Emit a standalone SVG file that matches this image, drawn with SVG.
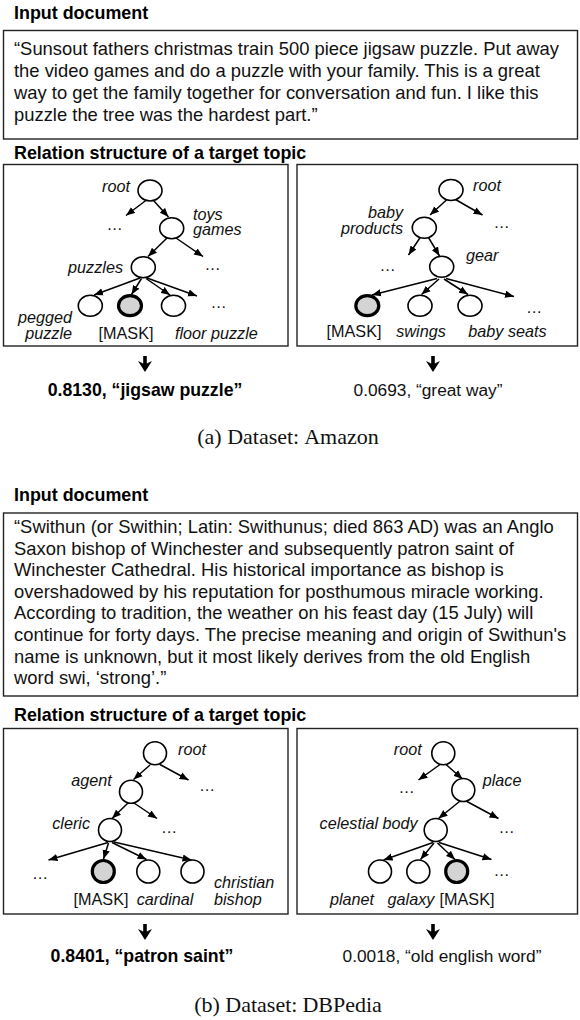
<svg xmlns="http://www.w3.org/2000/svg" width="580" height="1020" viewBox="0 0 580 1020">
<defs>
<marker id="ah" markerUnits="userSpaceOnUse" markerWidth="10" markerHeight="8" refX="9" refY="4" orient="auto"><path d="M0,0.4 L9,4 L0,7.6 z" fill="#000"/></marker>
<style>
.h{font-family:"Liberation Sans",Arial,sans-serif;font-weight:bold;font-size:17.9px;fill:#000}
.b{font-family:"Liberation Sans",Arial,sans-serif;font-size:18.4px;fill:#111}
.l{font-family:"Liberation Sans",Arial,sans-serif;font-style:italic;font-size:16.2px;fill:#111}
.k{font-family:"Liberation Sans",Arial,sans-serif;font-size:16.2px;fill:#111}
.d{font-family:"Liberation Sans",Arial,sans-serif;font-size:16.2px;fill:#111;text-anchor:middle}
.rb{font-family:"Liberation Sans",Arial,sans-serif;font-weight:bold;font-size:17.7px;fill:#000;text-anchor:middle}
.r{font-family:"Liberation Sans",Arial,sans-serif;font-size:17.3px;fill:#111;text-anchor:middle}
.c{font-family:"Liberation Serif","Times New Roman",serif;font-size:22px;fill:#111;text-anchor:middle}
.box{fill:none;stroke:#222;stroke-width:1.4}
.n{fill:#fff;stroke:#000;stroke-width:1.6}
.m{fill:#d4d4d4;stroke:#000;stroke-width:3.2}
.e{stroke:#000;stroke-width:1.5;fill:none;marker-end:url(#ah)}
.end{text-anchor:end}
.mid{text-anchor:middle}
</style>
</defs>
<rect width="580" height="1020" fill="#fff"/>

<!-- ===== (a) ===== -->
<g id="doc-a">
<text class="h" x="14" y="19">Input document</text>
<rect class="box" x="3.5" y="30.5" width="574" height="108.5"/>
<text class="b" x="14" y="55">“Sunsout fathers christmas train 500 piece jigsaw puzzle. Put away</text>
<text class="b" x="14" y="77">the video games and do a puzzle with your family. This is a great</text>
<text class="b" x="14" y="99">way to get the family together for conversation and fun. I like this</text>
<text class="b" x="14" y="121">puzzle the tree was the hardest part.”</text>
</g>
<text class="h" x="14" y="159">Relation structure of a target topic</text>
<g id="box-a-left"><rect class="box" x="3.5" y="164.5" width="284.5" height="181.5"/></g>
<g id="box-a-right"><rect class="box" x="297" y="164.5" width="280.5" height="181.5"/></g>

<g id="connectors-a">
<path class="e" d="M146.5,200 L126,215.5"/>
<path class="e" d="M153.5,200.5 L168.5,217"/>
<path class="e" d="M167,238 L148,256.5"/>
<path class="e" d="M176,238 L203,256.5"/>
<path class="e" d="M140,278 L94,295"/>
<path class="e" d="M141.5,278.5 L131.5,294.5"/>
<path class="e" d="M146,278.5 L170,295"/>
<path class="e" d="M147,278 L197,296"/>
<path class="e" d="M447,199.5 L430,215"/>
<path class="e" d="M455.5,199.5 L482.5,215"/>
<path class="e" d="M420.5,237 L408.5,255"/>
<path class="e" d="M428.5,237.5 L439.5,256"/>
<path class="e" d="M437,278.5 L372,295"/>
<path class="e" d="M439,279 L421.5,294.5"/>
<path class="e" d="M444,279 L468,294.5"/>
<path class="e" d="M446,278.5 L514,296.5"/>
<path d="M145,372 L138,361 L143.2,363.5 L143.2,356 L146.8,356 L146.8,363.5 L152,361 Z" fill="#000"/>
<path d="M433,372 L426,361 L431.2,363.5 L431.2,356 L434.8,356 L434.8,363.5 L440,361 Z" fill="#000"/>
</g>

<g id="a-root"><ellipse class="n" cx="150" cy="190.5" rx="12" ry="10.5"/><text class="l end" x="130" y="191.5">root</text></g>
<g id="a-dots1"><text class="d" x="114.5" y="229.5">…</text></g>
<g id="a-toys"><ellipse class="n" cx="171.7" cy="228.3" rx="12" ry="10.5"/><text class="l" x="193" y="220">toys<tspan x="193" dy="15">games</tspan></text></g>
<g id="a-puzzles"><ellipse class="n" cx="143.3" cy="267.3" rx="12" ry="10.5"/><text class="l end" x="123" y="273">puzzles</text></g>
<g id="a-dots2"><text class="d" x="212.5" y="269.5">…</text></g>
<g id="a-pegged"><ellipse class="n" cx="90.3" cy="305.7" rx="12" ry="10.5"/><text class="l end" x="72" y="323">pegged<tspan x="72" dy="15.5">puzzle</tspan></text></g>
<g id="a-mask1"><ellipse class="m" cx="130" cy="305.7" rx="11.5" ry="10"/><text class="k mid" x="126" y="338.5">[MASK]</text></g>
<g id="a-floor"><ellipse class="n" cx="173.5" cy="305.7" rx="12" ry="10.5"/><text class="l" x="175" y="338.5">floor puzzle</text></g>
<g id="a-dots3"><text class="d" x="218.5" y="308">…</text></g>

<g id="a2-root"><ellipse class="n" cx="451" cy="190" rx="12" ry="10.5"/><text class="l" x="473" y="191">root</text></g>
<g id="a2-dots1"><text class="d" x="501.5" y="228">…</text></g>
<g id="a2-baby"><ellipse class="n" cx="424.3" cy="227.7" rx="12" ry="10.5"/><text class="l end" x="403" y="218">baby<tspan x="403" dy="16">products</tspan></text></g>
<g id="a2-dots2"><text class="d" x="387.5" y="271">…</text></g>
<g id="a2-gear"><ellipse class="n" cx="441.7" cy="266.7" rx="12" ry="10.5"/><text class="l" x="466" y="260.5">gear</text></g>
<g id="a2-mask"><ellipse class="m" cx="367.3" cy="305.7" rx="11.5" ry="10"/><text class="k mid" x="354" y="337">[MASK]</text></g>
<g id="a2-swings"><ellipse class="n" cx="420" cy="305.7" rx="12" ry="10.5"/><text class="l mid" x="421" y="337">swings</text></g>
<g id="a2-seats"><ellipse class="n" cx="470" cy="305.7" rx="12" ry="10.5"/><text class="l mid" x="507.5" y="337">baby seats</text></g>
<g id="a2-dots3"><text class="d" x="534" y="313">…</text></g>

<g id="result-a">
<text class="rb" x="145" y="396">0.8130, “jigsaw puzzle”</text>
<text class="r" x="428" y="396">0.0693, “great way”</text>
<text class="c" x="288" y="444">(a) Dataset:<tspan dx="5">Amazon</tspan></text>
</g>

<!-- ===== (b) ===== -->
<g id="doc-b">
<text class="h" x="14" y="501">Input document</text>
<rect class="box" x="3.5" y="513" width="574" height="183"/>
<text class="b" x="14" y="533">“Swithun (or Swithin; Latin: Swithunus; died 863 AD) was an Anglo</text>
<text class="b" x="14" y="554.6">Saxon bishop of Winchester and subsequently patron saint of</text>
<text class="b" x="14" y="576.2">Winchester Cathedral. His historical importance as bishop is</text>
<text class="b" x="14" y="597.8">overshadowed by his reputation for posthumous miracle working.</text>
<text class="b" x="14" y="619.4">According to tradition, the weather on his feast day (15 July) will</text>
<text class="b" x="14" y="641">continue for forty days. The precise meaning and origin of Swithun's</text>
<text class="b" x="14" y="662.6">name is unknown, but it most likely derives from the old English</text>
<text class="b" x="14" y="684.2">word swi, ‘strong’.”</text>
</g>
<text class="h" x="14" y="721">Relation structure of a target topic</text>
<g id="box-b-left"><rect class="box" x="3.5" y="728.5" width="284.5" height="185.5"/></g>
<g id="box-b-right"><rect class="box" x="297" y="728.5" width="280.5" height="185.5"/></g>

<g id="connectors-b">
<path class="e" d="M150,765 L133.5,779.5"/>
<path class="e" d="M160,764.5 L188.5,780"/>
<path class="e" d="M128,803 L112,818.5"/>
<path class="e" d="M134,803 L157,818.5"/>
<path class="e" d="M108,842.5 L48.5,860"/>
<path class="e" d="M108.5,843 L103.5,859"/>
<path class="e" d="M112,842.5 L146.5,859.5"/>
<path class="e" d="M114,842 L191.5,860"/>
<path class="e" d="M440,764.5 L418.5,780"/>
<path class="e" d="M446,764.5 L462.5,779"/>
<path class="e" d="M459.5,801.5 L438.5,818.5"/>
<path class="e" d="M467,801.5 L498.5,818.5"/>
<path class="e" d="M433,842.5 L383.5,860"/>
<path class="e" d="M434,843 L420.5,859.5"/>
<path class="e" d="M437.5,843 L455,859.5"/>
<path class="e" d="M439,842.5 L491.5,859.5"/>
<path d="M145,940 L138,929 L143.2,931.5 L143.2,924 L146.8,924 L146.8,931.5 L152,929 Z" fill="#000"/>
<path d="M433,940 L426,929 L431.2,931.5 L431.2,924 L434.8,924 L434.8,931.5 L440,929 Z" fill="#000"/>
</g>

<g id="b-root"><circle class="n" cx="155" cy="753.3" r="11.5"/><text class="l" x="178" y="755">root</text></g>
<g id="b-dots1"><text class="d" x="207" y="791">…</text></g>
<g id="b-agent"><circle class="n" cx="131" cy="791.7" r="11.5"/><text class="l end" x="111.7" y="786">agent</text></g>
<g id="b-dots2"><text class="d" x="169" y="833">…</text></g>
<g id="b-cleric"><circle class="n" cx="110" cy="830" r="11.5"/><text class="l end" x="90" y="828.5">cleric</text></g>
<g id="b-dots3"><text class="d" x="40" y="879">…</text></g>
<g id="b-mask"><circle class="m" cx="103.3" cy="871.5" r="11"/><text class="k mid" x="101" y="905">[MASK]</text></g>
<g id="b-cardinal"><circle class="n" cx="148.3" cy="871.5" r="11.5"/><text class="l mid" x="165" y="905">cardinal</text></g>
<g id="b-christian"><circle class="n" cx="192.5" cy="871.5" r="11.5"/><text class="l" x="214" y="888">christian<tspan x="214" dy="17">bishop</tspan></text></g>

<g id="b2-root"><circle class="n" cx="443.3" cy="753.3" r="11.5"/><text class="l end" x="421.7" y="754.5">root</text></g>
<g id="b2-dots1"><text class="d" x="406.5" y="793">…</text></g>
<g id="b2-place"><circle class="n" cx="463.3" cy="790" r="11.5"/><text class="l" x="482.7" y="786">place</text></g>
<g id="b2-celestial"><circle class="n" cx="435.7" cy="830" r="11.5"/><text class="l end" x="417.7" y="829">celestial body</text></g>
<g id="b2-dots2"><text class="d" x="506.5" y="833">…</text></g>
<g id="b2-planet"><circle class="n" cx="380" cy="871.5" r="11.5"/><text class="l mid" x="352" y="905">planet</text></g>
<g id="b2-galaxy"><circle class="n" cx="418.3" cy="871.5" r="11.5"/><text class="l mid" x="411" y="905">galaxy</text></g>
<g id="b2-mask"><circle class="m" cx="456.7" cy="871.5" r="11"/><text class="k mid" x="467" y="905">[MASK]</text></g>
<g id="b2-dots3"><text class="d" x="501.5" y="876">…</text></g>

<g id="result-b">
<text class="rb" x="142" y="962">0.8401, “patron saint”</text>
<text class="r" x="442" y="962">0.0018, “old english word”</text>
<text class="c" x="288" y="1012">(b) Dataset:<tspan dx="5">DBPedia</tspan></text>
</g>
</svg>
